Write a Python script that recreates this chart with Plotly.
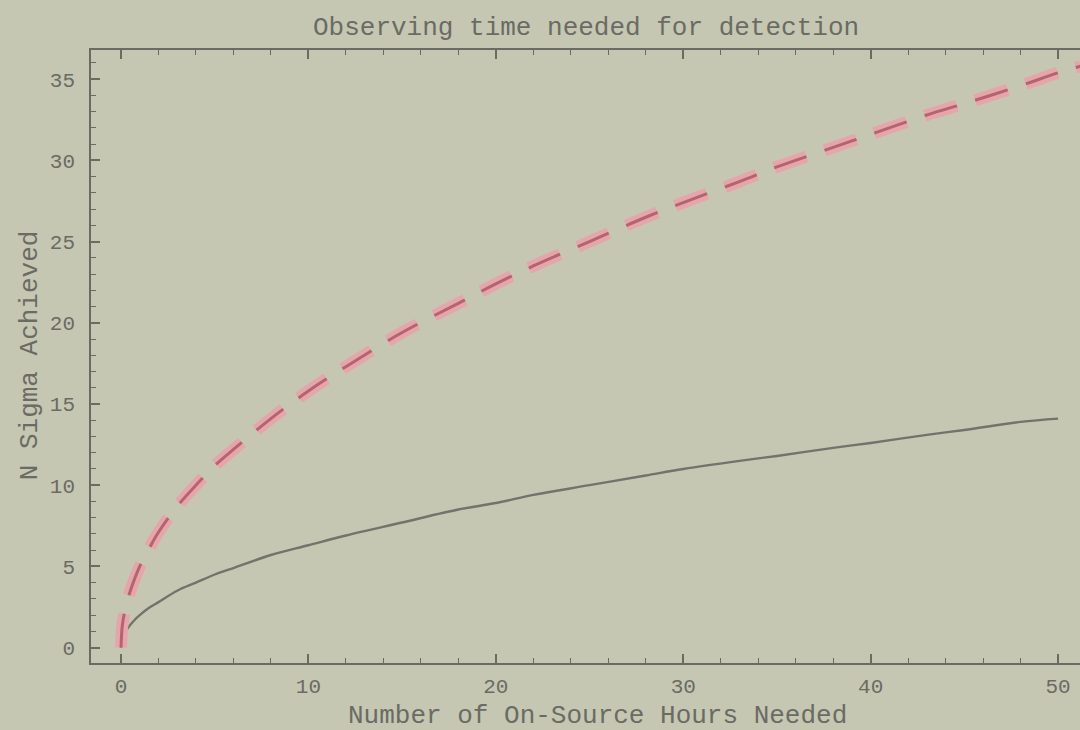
import plotly.graph_objects as go

# Observing hours (x) and significance reached (N sigma) for the two cases
hours_fast = [0, 0.05, 0.1, 0.25, 0.5, 0.75, 1, 1.5, 2, 3, 4, 5, 6, 8, 10, 12, 15, 18,
              20, 22, 25, 28, 30, 33, 35, 38, 40, 43, 45, 48, 50, 51.2]
sigma_fast = [0, 1.1, 1.6, 2.5, 3.5, 4.3, 5.0, 6.1, 7.1, 8.7, 10.0, 11.2, 12.2, 14.1,
              15.8, 17.3, 19.4, 21.2, 22.4, 23.5, 25.0, 26.5, 27.4, 28.7, 29.6, 30.8,
              31.6, 32.8, 33.5, 34.6, 35.4, 35.8]

hours_slow = [0, 0.05, 0.1, 0.25, 0.5, 0.75, 1, 1.5, 2, 3, 4, 5, 6, 8, 10, 12, 15, 18,
              20, 22, 25, 28, 30, 33, 35, 38, 40, 43, 45, 48, 50]
sigma_slow = [0, 0.45, 0.63, 1.0, 1.4, 1.73, 2.0, 2.45, 2.8, 3.5, 4.0, 4.5, 4.9, 5.7,
              6.3, 6.9, 7.7, 8.5, 8.9, 9.4, 10.0, 10.6, 11.0, 11.5, 11.8, 12.3, 12.6,
              13.1, 13.4, 13.9, 14.1]

x_ticks = [0, 10, 20, 30, 40, 50]
y_ticks = [0, 5, 10, 15, 20, 25, 30, 35]

BG = "#c5c7b3"
INK = "#6b6b63"
FONT = "Liberation Mono"
DASH = "34px,19px"

fig = go.Figure()

# solid curve
fig.add_trace(go.Scatter(x=hours_slow, y=sigma_slow, mode="lines", line_shape="spline",
                         line=dict(color="#72736b", width=2.4), showlegend=False,
                         hoverinfo="skip"))
# dashed curve: soft pink body with a darker core
fig.add_trace(go.Scatter(x=hours_fast, y=sigma_fast, mode="lines", line_shape="spline",
                         line=dict(color="#e6a5aa", width=12, dash=DASH), showlegend=False,
                         hoverinfo="skip"))
fig.add_trace(go.Scatter(x=hours_fast, y=sigma_fast, mode="lines", line_shape="spline",
                         line=dict(color="#b4646f", width=3, dash=DASH), showlegend=False,
                         hoverinfo="skip"))

axis_common = dict(
    showgrid=False, zeroline=False, showline=True, linecolor=INK, linewidth=1.6,
    ticks="inside", ticklen=9, tickwidth=1.5, tickcolor=INK,
    tickfont=dict(family=FONT, size=21, color=INK),
)

fig.update_layout(
    width=1080, height=730,
    margin=dict(l=91, r=0, t=50, b=67),
    paper_bgcolor=BG, plot_bgcolor=BG,
    xaxis=dict(range=[-1.6, 51.17], tickvals=x_ticks, mirror="allticks",
               minor=dict(dtick=2, tick0=0, ticks="inside", ticklen=5, tickwidth=1.3,
                          tickcolor=INK),
               ticklabelstandoff=3, **axis_common),
    yaxis=dict(range=[-0.95, 36.8], tickvals=y_ticks, mirror=False,
               minor=dict(dtick=1, tick0=0, ticks="inside", ticklen=5, tickwidth=1.3,
                          tickcolor=INK),
               ticklabelstandoff=10, **axis_common),
    annotations=[
        dict(text="Observing time needed for detection", xref="paper", yref="paper",
             x=0.5, y=1, yshift=22, showarrow=False, xanchor="center", yanchor="middle",
             font=dict(family=FONT, size=26, color=INK)),
        dict(text="Number of On-Source Hours Needed", x=25.4, xref="x", yref="paper",
             y=0, yshift=-53, showarrow=False, xanchor="center", yanchor="middle",
             font=dict(family=FONT, size=26, color=INK)),
        dict(text="N Sigma Achieved", xref="paper", x=0, xshift=-61, yref="y", y=18.0,
             textangle=-90, showarrow=False, xanchor="center", yanchor="middle",
             font=dict(family=FONT, size=26, color=INK)),
    ],
)

fig.write_html("out.html")
